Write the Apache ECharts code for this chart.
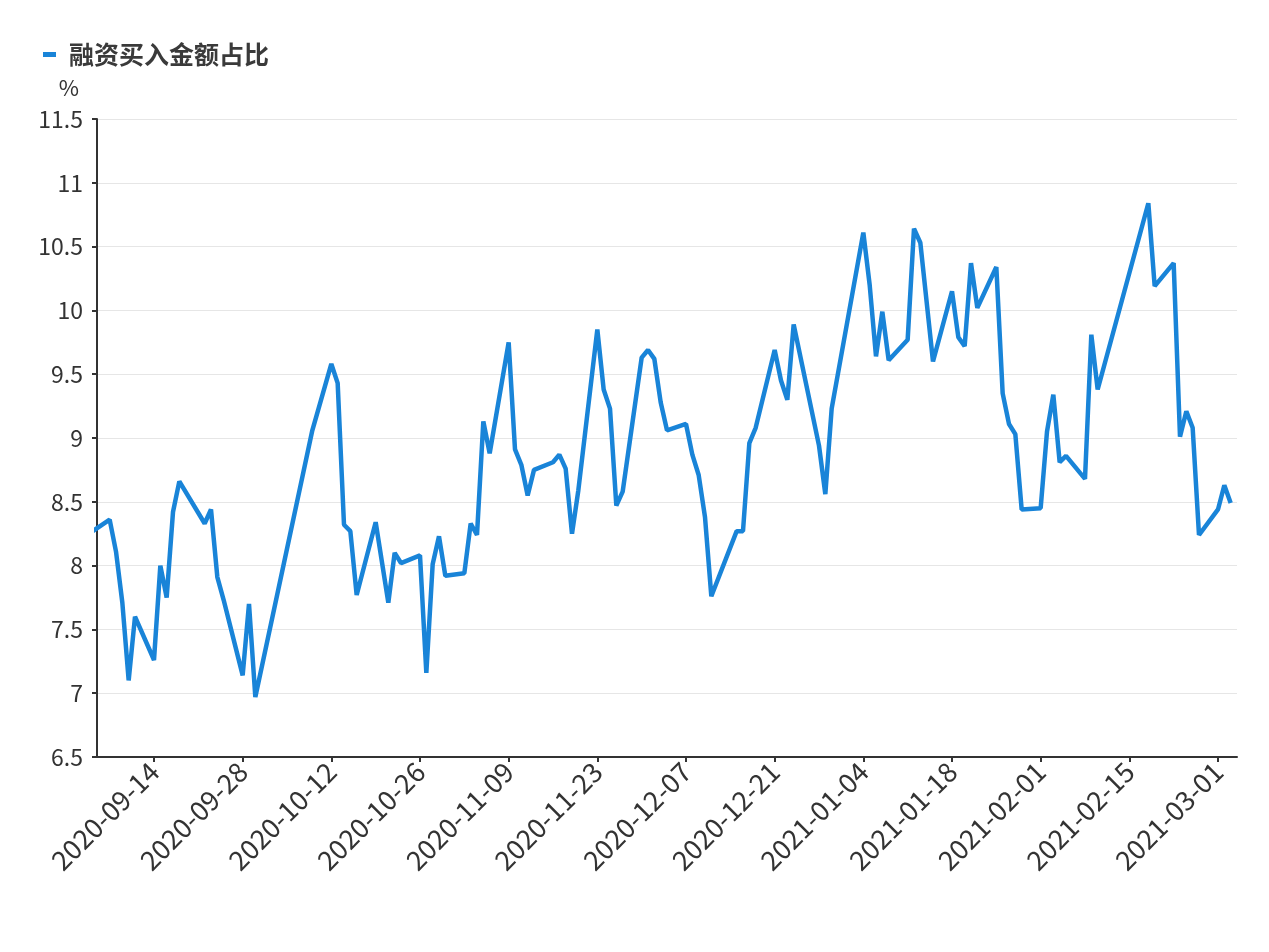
<!DOCTYPE html>
<html>
<head>
<meta charset="utf-8">
<script src="https://cdn.jsdelivr.net/npm/echarts@6/dist/echarts.min.js"></script>
<style>
html,body{margin:0;padding:0;background:#fff;}
#chart{width:1269px;height:952px;}
</style>
</head>
<body>
<div id="chart"></div>
<script>
var seriesName = '融资买入金额占比';
var dates = [
'2020-09-04','2020-09-07','2020-09-08','2020-09-09','2020-09-10','2020-09-11',
'2020-09-14','2020-09-15','2020-09-16','2020-09-17','2020-09-18',
'2020-09-22','2020-09-23','2020-09-24','2020-09-25',
'2020-09-28','2020-09-29','2020-09-30',
'2020-10-09','2020-10-12','2020-10-13','2020-10-14','2020-10-15','2020-10-16',
'2020-10-19','2020-10-21','2020-10-22','2020-10-23',
'2020-10-26','2020-10-27','2020-10-28','2020-10-29','2020-10-30',
'2020-11-02','2020-11-03','2020-11-04','2020-11-05','2020-11-06',
'2020-11-09','2020-11-10','2020-11-11','2020-11-12','2020-11-13',
'2020-11-16','2020-11-17','2020-11-18','2020-11-19','2020-11-20',
'2020-11-23','2020-11-24','2020-11-25','2020-11-26','2020-11-27',
'2020-11-30','2020-12-01','2020-12-02','2020-12-03','2020-12-04',
'2020-12-07','2020-12-08','2020-12-09','2020-12-10','2020-12-11',
'2020-12-15','2020-12-16','2020-12-17','2020-12-18',
'2020-12-21','2020-12-22','2020-12-23','2020-12-24',
'2020-12-28','2020-12-29','2020-12-30',
'2021-01-04','2021-01-05','2021-01-06','2021-01-07','2021-01-08',
'2021-01-11','2021-01-12','2021-01-13','2021-01-15',
'2021-01-18','2021-01-19','2021-01-20','2021-01-21','2021-01-22',
'2021-01-25','2021-01-26','2021-01-27','2021-01-28','2021-01-29',
'2021-02-01','2021-02-02','2021-02-03','2021-02-04','2021-02-05',
'2021-02-08','2021-02-09','2021-02-10',
'2021-02-18','2021-02-19',
'2021-02-22','2021-02-23','2021-02-24','2021-02-25','2021-02-26',
'2021-03-01','2021-03-02','2021-03-03'
];
var values = [
8.26,8.36,8.11,7.71,7.10,7.60,
7.26,8.00,7.75,8.42,8.66,
8.33,8.44,7.91,7.73,
7.14,7.70,6.97,
9.06,9.58,9.43,8.32,8.27,7.77,
8.34,7.71,8.10,8.02,
8.08,7.16,8.01,8.23,7.92,
7.94,8.33,8.24,9.13,8.88,
9.75,8.91,8.79,8.55,8.75,
8.81,8.87,8.76,8.25,8.59,
9.85,9.38,9.23,8.47,8.58,
9.63,9.69,9.62,9.28,9.06,
9.11,8.87,8.71,8.38,7.76,
8.27,8.27,8.96,9.08,
9.69,9.45,9.30,9.89,
8.94,8.56,9.23,
10.61,10.20,9.64,9.99,9.61,
9.77,10.64,10.53,9.60,
10.15,9.79,9.72,10.37,10.02,
10.34,9.35,9.11,9.03,8.44,
8.45,9.05,9.34,8.81,8.86,
8.68,9.81,9.38,
10.84,10.19,
10.37,9.01,9.21,9.08,8.24,
8.44,8.63,8.49
];
var xTickLabels = ['2020-09-14','2020-09-28','2020-10-12','2020-10-26','2020-11-09','2020-11-23',
'2020-12-07','2020-12-21','2021-01-04','2021-01-18','2021-02-01','2021-02-15','2021-03-01'];
var xMin = '2020-09-05';
var xMax = '2021-03-04';
var yMin = 6.5, yMax = 11.5, yStep = 0.5;

function toTime(s){
  var p = s.split('-');
  return new Date(+p[0], +p[1]-1, +p[2]).getTime();
}
function fmt(t){
  var d = new Date(t);
  var m = d.getMonth()+1, dd = d.getDate();
  return d.getFullYear() + '-' + (m<10?'0':'') + m + '-' + (dd<10?'0':'') + dd;
}
var tickVals = xTickLabels.map(toTime);
var seriesData = dates.map(function(d,i){ return [toTime(d), values[i]]; });

var FONT = '"Noto Sans CJK SC", "Noto Sans", sans-serif';
var chart = echarts.init(document.getElementById('chart'), null, {renderer:'canvas'});
chart.setOption({
  animation: false,
  backgroundColor: '#ffffff',
  textStyle: {fontFamily: FONT},
  legend: {
    left: 38, top: 37,
    icon: 'rect', itemWidth: 13, itemHeight: 5,
    textStyle: {fontSize: 25, fontWeight: 'bold', color: '#3a3a3a', fontFamily: FONT, padding: [0,0,0,8]},
    data: [seriesName]
  },
  grid: {left: 97, right: 32, top: 119, bottom: 195, containLabel: false},
  xAxis: {
    type: 'value',
    min: toTime(xMin), max: toTime(xMax),
    splitLine: {show: false},
    axisLine: {show: true, lineStyle: {color: '#333333', width: 2}},
    axisTick: {show: true, length: 5, lineStyle: {color: '#333333', width: 2}, customValues: tickVals},
    axisLabel: {
      customValues: tickVals,
      formatter: function(v){ return fmt(v); },
      rotate: 45, fontSize: 27, color: '#333333', margin: 10, fontFamily: FONT
    }
  },
  yAxis: {
    type: 'value',
    min: yMin, max: yMax, interval: yStep,
    name: '%',
    nameLocation: 'end',
    nameGap: 20,
    nameTextStyle: {fontSize: 22, color: '#333333', align: 'right', padding: [0, 18, 0, 0], fontFamily: FONT},
    axisLine: {show: true, lineStyle: {color: '#333333', width: 2}},
    axisTick: {show: true, length: 5, lineStyle: {color: '#333333', width: 2}},
    axisLabel: {fontSize: 23, color: '#333333', margin: 14, fontFamily: FONT},
    splitLine: {show: true, lineStyle: {color: '#e6e6e6', width: 1}}
  },
  series: [{
    name: seriesName,
    type: 'line',
    data: seriesData,
    showSymbol: false,
    symbol: 'none',
    clip: true,
    lineStyle: {color: '#1984d8', width: 4.5},
    itemStyle: {color: '#1984d8'}
  }]
});
</script>
</body>
</html>
